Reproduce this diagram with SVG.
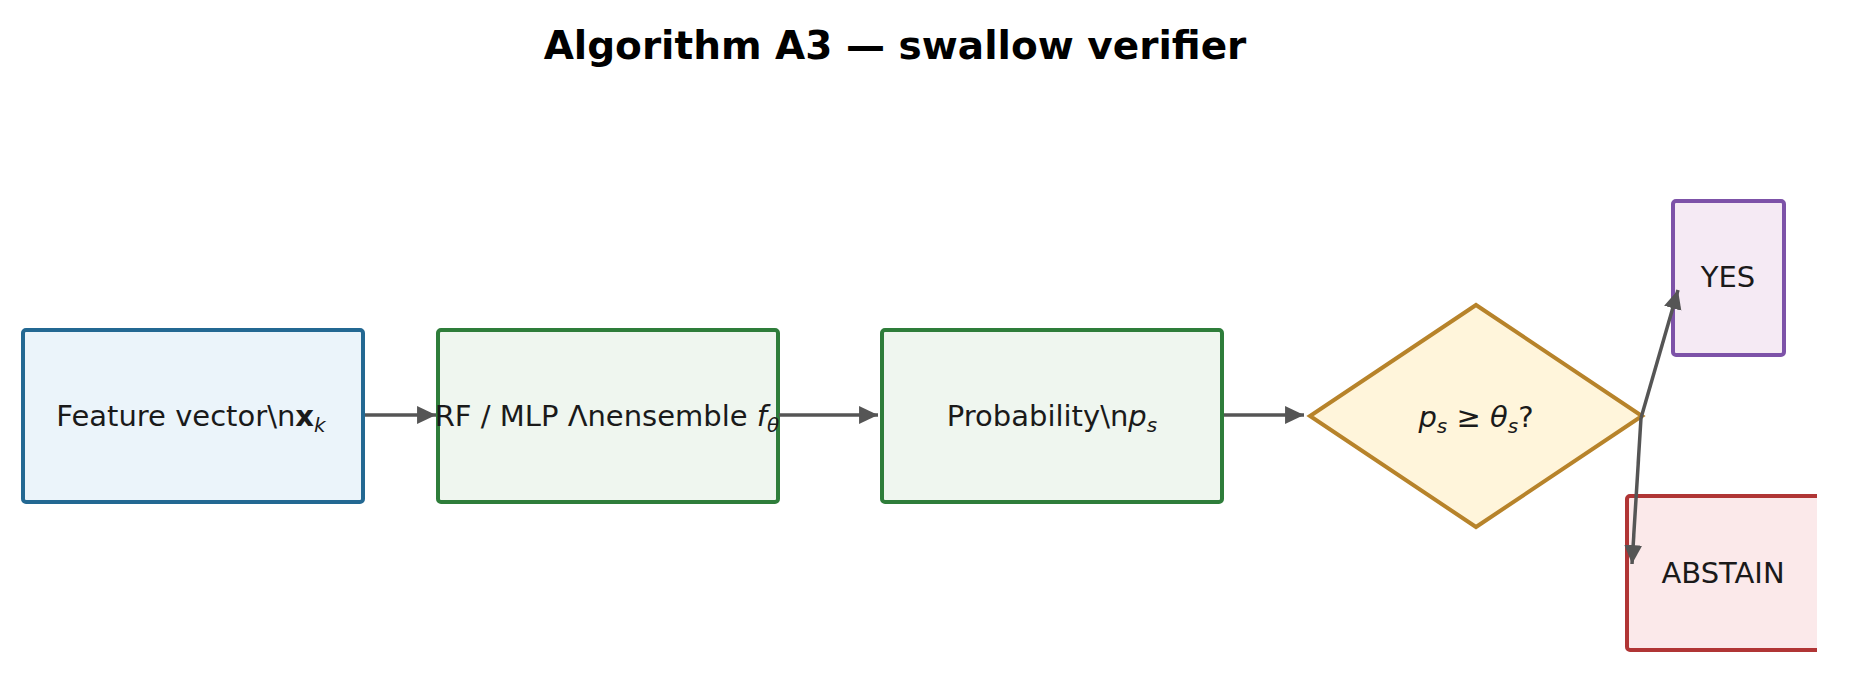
<svg xmlns="http://www.w3.org/2000/svg" width="1850" height="682" viewBox="0 0 1850 682">
<defs>
<style>
.lbl{font-family:"DejaVu Sans","Liberation Sans",sans-serif;font-size:29px;fill:#1a1a1a;text-anchor:middle}
.title{font-family:"DejaVu Sans","Liberation Sans",sans-serif;font-size:39px;font-weight:bold;fill:#000;text-anchor:middle}
.it{font-style:italic}
.conn{stroke:#555555;stroke-width:3.5;fill:none}
.blue{fill:#ebf4fa;stroke:#236892;stroke-width:4}
.green{fill:#eff6ef;stroke:#2e7d3a;stroke-width:4}
.gold{fill:#fff5db;stroke:#b7832a;stroke-width:4}
.purple{fill:#f5eaf4;stroke:#7d52a8;stroke-width:4}
.red{fill:#fbe9ea;stroke:#b03535;stroke-width:4}
</style>
<marker id="ah" markerUnits="userSpaceOnUse" markerWidth="20" markerHeight="20" viewBox="0 0 19 19" refX="18" refY="9.5" orient="auto">
<path d="M0,1 L18,9.5 L0,18 Z" fill="#555555"/>
</marker>
<clipPath id="clipR"><rect x="0" y="0" width="1817" height="682"/></clipPath>
</defs>
<rect x="0" y="0" width="1850" height="682" fill="#ffffff"/>
<text class="title" x="895" y="59">Algorithm A3 — swallow verifier</text>
<g id="node-feature">
<rect class="blue" x="23" y="330" width="340" height="172" rx="3"/>
<text class="lbl" x="191" y="426">Feature vector\n<tspan font-weight="bold">x</tspan><tspan class="it" font-size="20" dy="6">k</tspan></text>
</g>
<g id="node-ensemble">
<rect class="green" x="438" y="330" width="340" height="172" rx="3"/>
<text class="lbl" x="607" y="426">RF / MLP Λnensemble <tspan class="it">f</tspan><tspan class="it" font-size="20" dy="6">θ</tspan></text>
</g>
<g id="node-prob">
<rect class="green" x="882" y="330" width="340" height="172" rx="3"/>
<text class="lbl" x="1052" y="426">Probability\n<tspan class="it">p</tspan><tspan class="it" font-size="20" dy="6">s</tspan></text>
</g>
<g id="node-decision">
<polygon class="gold" points="1476,305 1642,416 1476,527 1310,416"/>
<text class="lbl" x="1476" y="427"><tspan class="it">p</tspan><tspan class="it" font-size="20" dy="6">s</tspan><tspan dy="-6"> ≥ </tspan><tspan class="it">θ</tspan><tspan class="it" font-size="20" dy="6">s</tspan><tspan dy="-6">?</tspan></text>
</g>
<g id="node-yes">
<rect class="purple" x="1673" y="201" width="111" height="154" rx="3"/>
<text class="lbl" x="1728" y="287">YES</text>
</g>
<g id="node-abstain">
<g clip-path="url(#clipR)">
<rect class="red" x="1627" y="496" width="200" height="154" rx="3"/>
</g>
<text class="lbl" x="1723" y="583">ABSTAIN</text>
</g>
<g id="connectors">
<line class="conn" x1="365" y1="415" x2="436" y2="415" marker-end="url(#ah)"/>
<line class="conn" x1="779" y1="415" x2="878" y2="415" marker-end="url(#ah)"/>
<line class="conn" x1="1224" y1="415" x2="1304" y2="415" marker-end="url(#ah)"/>
<line class="conn" x1="1641" y1="418" x2="1678" y2="290" marker-end="url(#ah)"/>
<line class="conn" x1="1641" y1="418" x2="1632" y2="564" marker-end="url(#ah)"/>
</g>
</svg>
